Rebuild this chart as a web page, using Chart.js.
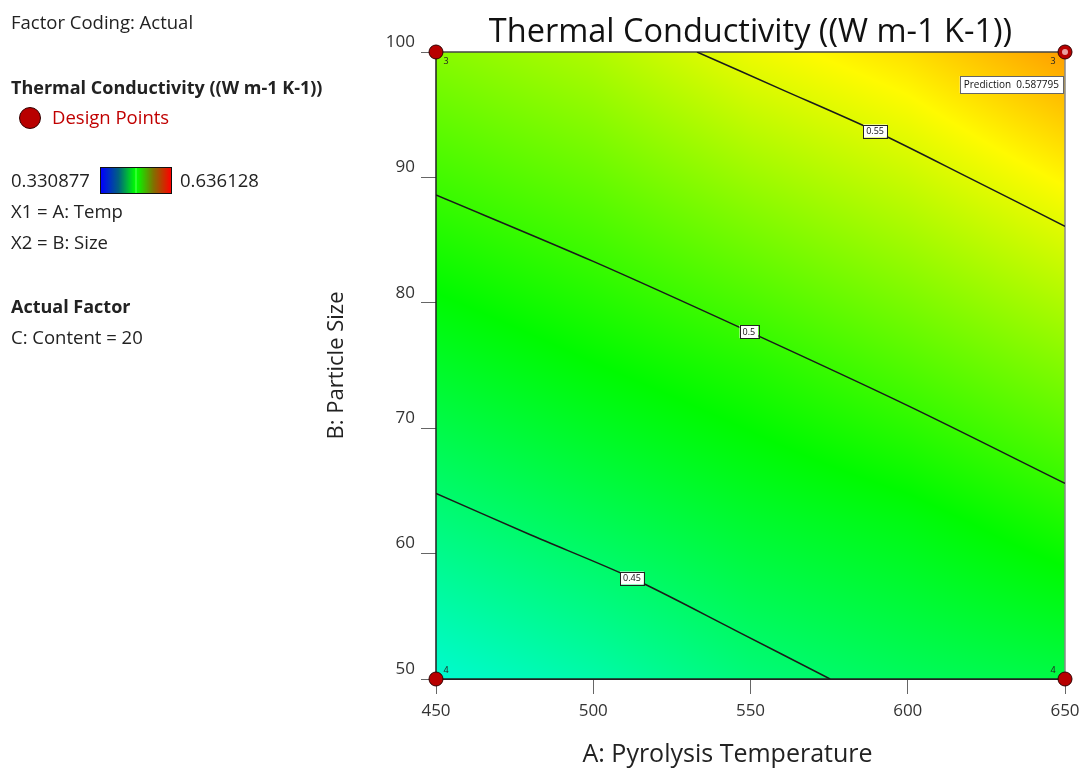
<!DOCTYPE html>
<html>
<head>
<meta charset="utf-8">
<script src="https://cdn.jsdelivr.net/npm/chart.js@4.4.1/dist/chart.umd.min.js"></script>
<style>
html,body{margin:0;padding:0;background:#fff;}
#wrap{position:relative;width:1079px;height:768px;overflow:hidden;font-family:"Open Sans",sans-serif;color:#222;}
#chart{position:absolute;left:0;top:0;}
.t{position:absolute;left:11px;font-size:18.5px;line-height:24px;white-space:nowrap;z-index:2;}
.b{font-weight:bold;font-size:18px;}
.red{color:#c00000;}
#dot{position:absolute;left:19px;top:107px;width:20px;height:20px;border-radius:50%;background:#b80000;border:1px solid #300;z-index:2;}
#bar{position:absolute;left:100px;top:167px;width:70px;height:25px;border:1px solid #111;z-index:2;
 background:linear-gradient(to right,#0000ff 0%,#006080 25%,#00ff00 49%,#a0ffa0 50%,#00ff00 51%,#807000 75%,#ff0000 100%);}
</style>
</head>
<body>
<div id="wrap">
  <canvas id="chart" width="1079" height="768"></canvas>
  <div class="t" style="top:10px">Factor Coding: Actual</div>
  <div class="t b" style="top:75px">Thermal Conductivity ((W m-1 K-1))</div>
  <div id="dot"></div>
  <div class="t red" style="left:52px;top:105px">Design Points</div>
  <div class="t" style="top:168px">0.330877</div>
  <div id="bar"></div>
  <div class="t" style="left:180px;top:168px">0.636128</div>
  <div class="t" style="top:199px">X1 = A: Temp</div>
  <div class="t" style="top:230px">X2 = B: Size</div>
  <div class="t b" style="top:294px">Actual Factor</div>
  <div class="t" style="top:325px">C: Content = 20</div>
</div>
<script>
// ---- data ----
const chartTitle = 'Thermal Conductivity ((W m-1 K-1))';
const xAxisTitle = 'A: Pyrolysis Temperature';
const yAxisTitle = 'B: Particle Size';
const tempRange = [450, 650];
const sizeRange = [50, 100];
const tempStep = 50;
const sizeStep = 10;
const colorMin = 0.330877;
const colorMax = 0.636128;

// response surface sampled on a coarse grid (rows: particle size, cols: temperature)
const gridTemp = [450, 500, 550, 600, 650];
const gridSize = [50, 62.5, 75, 87.5, 100];
const gridSize50   = [0.419, 0.431, 0.446, 0.455, 0.462];
const gridSize62   = [0.445, 0.457, 0.469, 0.478, 0.492];
const gridSize75   = [0.471, 0.483, 0.494, 0.508, 0.523];
const gridSize87   = [0.498, 0.509, 0.524, 0.538, 0.555];
const gridSize100  = [0.524, 0.536, 0.555, 0.568, 0.588];
const conductivityGrid = [gridSize50, gridSize62, gridSize75, gridSize87, gridSize100];

// contour lines
const contourLevels = ['0.45', '0.5', '0.55'];
const contour045Temp = [450, 480, 512.3, 545, 575.3];
const contour045Size = [64.8, 61.5, 58.05, 53.9, 50];
const contour05Temp  = [450, 500, 549.5, 600, 650];
const contour05Size  = [88.6, 83.3, 77.7, 71.8, 65.6];
const contour055Temp = [533, 560, 589.6, 620, 650];
const contour055Size = [100, 97.0, 93.7, 89.9, 86.1];
const contourLabelTemp = [512.3, 549.5, 589.6];
const contourLabelSize = [58.05, 77.7, 93.7];

// design points
const designTemp = [450, 650, 450, 650];
const designSize = [100, 100, 50, 50];
const designReps = ['3', '3', '4', '4'];

// prediction flag
const predictionTemp = 650;
const predictionSize = 100;
const predictionValue = '0.587795';

// ---- helpers ----
function zip(xs, ys){ return xs.map((v,i)=>({x:v, y:ys[i]})); }
function idx(arr, v){
  let i = 0;
  while (i < arr.length - 2 && v > arr[i+1]) i++;
  return i;
}
function surface(t, s){
  const i = idx(gridTemp, t), j = idx(gridSize, s);
  const tx = Math.max(0, Math.min(1, (t - gridTemp[i])/(gridTemp[i+1]-gridTemp[i])));
  const ty = Math.max(0, Math.min(1, (s - gridSize[j])/(gridSize[j+1]-gridSize[j])));
  const a = conductivityGrid[j][i], b = conductivityGrid[j][i+1];
  const c = conductivityGrid[j+1][i], d = conductivityGrid[j+1][i+1];
  return (a*(1-tx)+b*tx)*(1-ty) + (c*(1-tx)+d*tx)*ty;
}
const stops = [[0,0,0,255],[0.25,0,255,255],[0.5,0,255,0],[0.75,255,255,0],[1,255,0,0]];
function cmap(v){
  let f = (v - colorMin)/(colorMax - colorMin);
  f = Math.max(0, Math.min(1, f));
  for (let k=0; k<stops.length-1; k++){
    const p = stops[k], q = stops[k+1];
    if (f <= q[0]){
      const u = (f - p[0])/(q[0]-p[0]);
      return [p[1]+(q[1]-p[1])*u, p[2]+(q[2]-p[2])*u, p[3]+(q[3]-p[3])*u];
    }
  }
  return [255,0,0];
}

const fieldPlugin = {
  id: 'field',
  beforeDatasetsDraw(chart){
    const {ctx, chartArea:a, scales:{x, y}} = chart;
    const w = Math.round(a.right - a.left), h = Math.round(a.bottom - a.top);
    const off = document.createElement('canvas');
    off.width = w; off.height = h;
    const octx = off.getContext('2d');
    const img = octx.createImageData(w, h);
    for (let j=0; j<h; j++){
      const s = y.getValueForPixel(a.top + j + 0.5);
      for (let i=0; i<w; i++){
        const t = x.getValueForPixel(a.left + i + 0.5);
        const c = cmap(surface(t, s));
        const o = (j*w + i)*4;
        img.data[o] = c[0]; img.data[o+1] = c[1]*0.98; img.data[o+2] = c[2]*0.96; img.data[o+3] = 255;
      }
    }
    octx.putImageData(img, 0, 0);
    ctx.drawImage(off, a.left, a.top);
    // frame
    ctx.save();
    ctx.lineWidth = 1.5;
    ctx.strokeStyle = '#444';
    ctx.beginPath(); ctx.moveTo(a.left, a.top); ctx.lineTo(a.right, a.top); ctx.stroke();
    ctx.strokeStyle = '#888';
    ctx.beginPath(); ctx.moveTo(a.right, a.top); ctx.lineTo(a.right, a.bottom); ctx.stroke();
    ctx.strokeStyle = '#222';
    ctx.beginPath(); ctx.moveTo(a.left, a.top); ctx.lineTo(a.left, a.bottom); ctx.lineTo(a.right, a.bottom); ctx.stroke();
    ctx.restore();
  }
};

const annotPlugin = {
  id: 'annot',
  afterDatasetsDraw(chart){
    const {ctx, chartArea:a, scales:{x, y}} = chart;
    ctx.save();
    // contour labels
    ctx.font = '9px "Open Sans", sans-serif';
    ctx.textAlign = 'center'; ctx.textBaseline = 'middle';
    contourLevels.forEach((lab, k) => {
      const px = x.getPixelForValue(contourLabelTemp[k]);
      const py = y.getPixelForValue(contourLabelSize[k]);
      const tw = ctx.measureText(lab).width + 6;
      ctx.fillStyle = '#fff';
      ctx.fillRect(px - tw/2, py - 6.5, tw, 13);
      ctx.strokeStyle = '#222'; ctx.lineWidth = 1;
      ctx.strokeRect(Math.round(px - tw/2)+0.5, Math.round(py - 6.5)+0.5, Math.round(tw), 13);
      ctx.fillStyle = '#111';
      ctx.fillText(lab, px, py + 0.5);
    });
    // replicate counts
    ctx.font = '9px "Open Sans", sans-serif';
    ctx.fillStyle = '#222';
    designReps.forEach((r, k) => {
      const px = x.getPixelForValue(designTemp[k]);
      const py = y.getPixelForValue(designSize[k]);
      const dx = designTemp[k] === tempRange[0] ? 10 : -12;
      const dy = designSize[k] === sizeRange[1] ? 9 : -9;
      ctx.fillText(r, px + dx, py + dy);
    });
    // prediction box
    const ppx = x.getPixelForValue(predictionTemp);
    const ppy = y.getPixelForValue(predictionSize);
    ctx.font = '10px "Open Sans", sans-serif';
    const txt = 'Prediction  ' + predictionValue;
    const tw = ctx.measureText(txt).width + 8;
    const bx = ppx - 2 - tw, by = ppy + 24;
    ctx.fillStyle = '#fff';
    ctx.fillRect(bx, by, tw, 17);
    ctx.strokeStyle = '#666'; ctx.lineWidth = 1;
    ctx.strokeRect(Math.round(bx)+0.5, Math.round(by)+0.5, Math.round(tw), 17);
    ctx.fillStyle = '#111'; ctx.textAlign = 'left';
    ctx.fillText(txt, bx + 4, by + 9);
    // highlight of selected point
    ctx.beginPath(); ctx.arc(ppx, ppy, 3, 0, Math.PI*2);
    ctx.fillStyle = '#e8a0a0'; ctx.fill();
    // x axis title
    ctx.font = '25px "Open Sans", sans-serif';
    ctx.fillStyle = '#222'; ctx.textAlign = 'center'; ctx.textBaseline = 'middle';
    ctx.fillText(xAxisTitle, (a.left + a.right)/2 - 23, 755);
    ctx.restore();
  }
};

const tickFont = {family:'"Open Sans", sans-serif', size:17};
new Chart(document.getElementById('chart'), {
  type: 'scatter',
  data: {
    datasets: [
      { label:'Design Points', data: zip(designTemp, designSize), pointRadius:7, pointHoverRadius:7,
        backgroundColor:'#b80000', borderColor:'#300000', borderWidth:1, clip:false, showLine:false },
      { label:'0.45', type:'line', data: zip(contour045Temp, contour045Size), borderColor:'#1a1a1a', borderWidth:1.5, pointRadius:0, tension:0.3, fill:false },
      { label:'0.5', type:'line', data: zip(contour05Temp, contour05Size), borderColor:'#1a1a1a', borderWidth:1.5, pointRadius:0, tension:0.3, fill:false },
      { label:'0.55', type:'line', data: zip(contour055Temp, contour055Size), borderColor:'#1a1a1a', borderWidth:1.5, pointRadius:0, tension:0.3, fill:false }
    ]
  },
  options: {
    responsive:false, animation:false,
    layout:{padding:{left:320, right:14, top:0, bottom:0}},
    plugins:{
      legend:{display:false}, tooltip:{enabled:false},
      title:{display:true, text:chartTitle, fullSize:false, color:'#111',
        font:{family:'"Open Sans", sans-serif', size:32.5, weight:'normal', lineHeight:1},
        padding:{top:16, bottom:3.5}}
    },
    scales:{
      x:{type:'linear', min:tempRange[0], max:tempRange[1],
        ticks:{stepSize:tempStep, font:tickFont, color:'#333', padding:7},
        grid:{drawOnChartArea:false, drawTicks:true, tickLength:15, color:'#666'},
        border:{display:true, color:'#222'},
        title:{display:false, text:xAxisTitle},
        afterFit(s){ s.height = 89; s.paddingLeft = 0; s.paddingRight = 0; }
      },
      y:{type:'linear', min:sizeRange[0], max:sizeRange[1],
        ticks:{stepSize:sizeStep, font:tickFont, color:'#333', padding:6, labelOffset:-10},
        grid:{drawOnChartArea:false, drawTicks:true, tickLength:15, color:'#666'},
        border:{display:true, color:'#222'},
        title:{display:true, text:yAxisTitle, color:'#222', font:{family:'"Open Sans", sans-serif', size:22, lineHeight:1}, padding:{top:6, bottom:0}},
        afterFit(s){ s.width = 116; s.paddingTop = 0; s.paddingBottom = 0; }
      }
    }
  },
  plugins:[fieldPlugin, annotPlugin]
});
</script>
</body>
</html>
